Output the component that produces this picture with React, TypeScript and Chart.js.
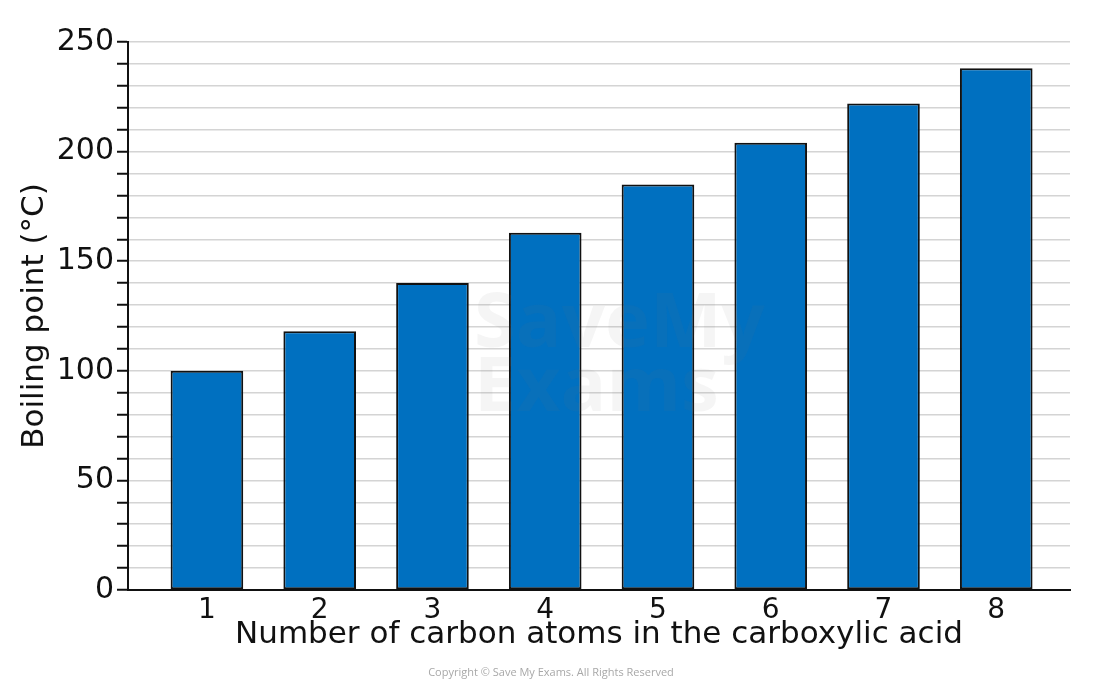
import React, { useEffect, useRef } from "react";
import { Chart, registerables } from "chart.js";

Chart.register(...registerables);

const carbonAtoms: number[] = [1, 2, 3, 4, 5, 6, 7, 8];
const boilingPoints: number[] = [100, 118, 140, 163, 185, 204, 222, 238];
const yMajorLabels: number[] = [0, 50, 100, 150, 200, 250];

const FONT = "'DejaVu Sans', sans-serif";

const watermark = {
  id: "watermark",
  afterDatasetsDraw(chart: any) {
    const ctx = chart.ctx;
    ctx.save();
    ctx.fillStyle = "rgba(110,110,120,0.07)";
    ctx.font = "bold 76px 'Open Sans', sans-serif";
    ctx.textBaseline = "alphabetic";
    ctx.textAlign = "left";
    ctx.fillText("SaveMy", 474, 347);
    ctx.fillText("Exams", 474, 411);
    ctx.restore();
  },
};

const copyright = {
  id: "copyright",
  afterDraw(chart: any) {
    const ctx = chart.ctx;
    ctx.save();
    ctx.fillStyle = "#a8a8a8";
    ctx.font = "11px 'Open Sans', sans-serif";
    ctx.textAlign = "center";
    ctx.textBaseline = "middle";
    ctx.fillText("Copyright © Save My Exams. All Rights Reserved", 551, 673);
    ctx.restore();
  },
};

export default function App() {
  const ref = useRef<HTMLCanvasElement | null>(null);

  useEffect(() => {
    document.body.style.margin = "0";
    const canvas = ref.current;
    if (!canvas) return;
    const chart = new Chart(canvas, {
      type: "bar",
      data: {
        datasets: [
          {
            data: carbonAtoms.map((c, i) => ({ x: c, y: boilingPoints[i] })),
            backgroundColor: "#0070c0",
            borderColor: "#111111",
            borderWidth: 2,
            borderSkipped: false,
            categoryPercentage: 1,
            barPercentage: 0.644,
          },
        ],
      },
      options: {
        animation: false,
        responsive: false,
        maintainAspectRatio: false,
        layout: { padding: { top: 42, right: 30, left: 0, bottom: 0 } },
        plugins: {
          legend: { display: false },
          tooltip: { enabled: false },
        },
        scales: {
          x: {
            type: "linear",
            offset: false,
            min: 0.3,
            max: 8.654,
            afterBuildTicks: (scale: any) => {
              scale.ticks = carbonAtoms.map((v) => ({ value: v }));
            },
            afterFit: (scale: any) => {
              scale.height = 94;
            },
            grid: { display: false, drawTicks: false, offset: false },
            border: { display: true, color: "#111111", width: 2 },
            ticks: {
              color: "#111111",
              font: { family: FONT, size: 28 },
              padding: 4,
              autoSkip: false,
              maxRotation: 0,
              callback: (v: any) => String(v),
            },
            title: {
              display: true,
              text: "Number of carbon atoms in the carboxylic acid",
              color: "#111111",
              font: { family: FONT, size: 31 },
              padding: { top: 0, bottom: 30 },
            },
          },
          y: {
            min: 0,
            max: 250,
            afterBuildTicks: (scale: any) => {
              const t: any[] = [];
              for (let v = 0; v <= 250; v += 10) t.push({ value: v });
              scale.ticks = t;
            },
            afterFit: (scale: any) => {
              scale.width = 128;
            },
            grid: {
              color: "#d4d4d4",
              lineWidth: 1.5,
              tickColor: "#111111",
              tickLength: 11,
              tickWidth: 2,
              drawTicks: true,
            },
            border: { display: true, color: "#111111", width: 2 },
            ticks: {
              color: "#111111",
              font: { family: FONT, size: 30 },
              padding: 3,
              autoSkip: false,
              callback: (v: any) => (yMajorLabels.includes(Number(v)) ? String(v) : ""),
            },
            title: {
              display: true,
              text: "Boiling point (°C)",
              color: "#111111",
              font: { family: FONT, size: 31 },
              padding: { top: 16, bottom: 0 },
            },
          },
        },
      },
      plugins: [watermark, copyright],
    } as any);
    return () => chart.destroy();
  }, []);

  return (
    <div style={{ position: "absolute", left: 0, top: 0, width: 1100, height: 684, background: "#fff" }}>
      <canvas ref={ref} width={1100} height={684} style={{ width: 1100, height: 684 }} />
    </div>
  );
}
